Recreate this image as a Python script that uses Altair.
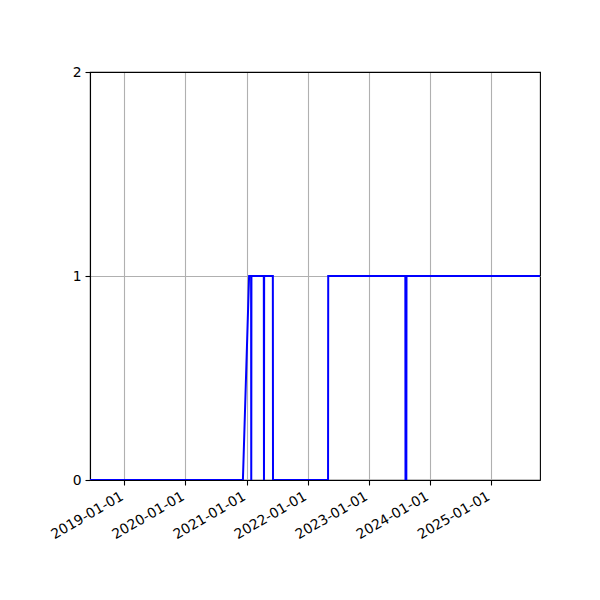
import altair as alt
import pandas as pd

# change points of the 0/1 status series
dates = [
    "2018-06-10", "2020-12-10", "2021-01-16", "2021-01-28", "2021-01-29",
    "2021-01-30", "2021-04-14", "2021-04-15", "2021-04-16", "2021-06-07",
    "2021-06-08", "2022-05-03", "2022-05-04", "2023-08-08", "2023-08-09",
    "2023-08-14", "2023-08-15", "2025-10-21",
]
status = [0, 0, 1, 1, 0, 1, 1, 0, 1, 1, 0, 0, 1, 1, 0, 0, 1, 1]

year_ticks = [2019, 2020, 2021, 2022, 2023, 2024, 2025]

source = pd.DataFrame({"date": dates, "status": status})

font = "DejaVu Sans"

chart = alt.Chart(source).mark_line(color="blue", strokeWidth=2, clip=True).encode(
    alt.X("date:T",
          scale=alt.Scale(type="utc",
                          domain=[alt.DateTime(year=2018, month=6, date=10, utc=True),
                                  alt.DateTime(year=2025, month=10, date=21, utc=True)]),
          axis=alt.Axis(title=None,
                        values=[alt.DateTime(year=y, month=1, date=1, utc=True) for y in year_ticks],
                        format="%Y-%m-%d", labelAngle=-30, labelAlign="right",
                        labelBaseline="top", labelPadding=4, labelOffset=-6)),
    alt.Y("status:Q",
          scale=alt.Scale(domain=[0, 2], nice=False),
          axis=alt.Axis(title=None, tickCount=2, labelPadding=4,
                        gridColor={"condition": {"test": "datum.value === 2", "value": "black"},
                                   "value": "#b0b0b0"})),
).properties(
    width=450,
    height=408,
    autosize=alt.AutoSizeParams(type="none"),
    padding={"left": 82, "top": 64, "right": 52, "bottom": 112},
).configure_axis(
    grid=True,
    gridColor="#b0b0b0",
    gridWidth=1.1,
    domainColor="black",
    domainWidth=1.1,
    tickColor="black",
    tickWidth=1.1,
    tickSize=5,
    labelFont=font,
    labelFontSize=13.9,
    labelColor="black",
    labelOverlap=False,
    labelFlush=False,
).configure_view(
    stroke="black",
    strokeWidth=1.1,
)

chart.save("out.html", embed_options={"renderer": "svg", "actions": False})
